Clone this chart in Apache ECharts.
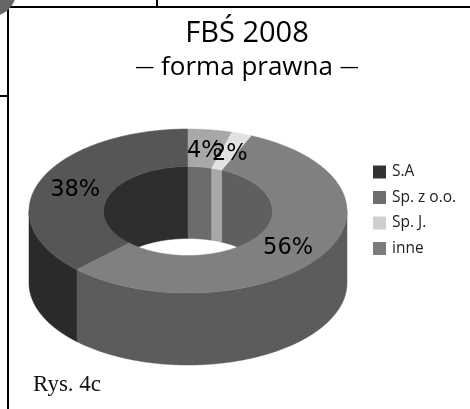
<!DOCTYPE html>
<html><head><meta charset="utf-8">
<style>html,body{margin:0;padding:0;background:#fff}#c{width:470px;height:409px}</style>
<script src="https://cdn.jsdelivr.net/npm/echarts@6/dist/echarts.min.js"></script>
</head><body><div id="c"></div>
<script>
const categories = ["S.A", "Sp. z o.o.", "Sp. J.", "inne"];
const shares = [37.7, 55.8, 2.1, 4.4];
const legendColors = ["#333333", "#6e6e6e", "#cfcfcf", "#7c7c7c"];
const topColors = ["#565656", "#808080", "#e2e2e2", "#a8a8a8"];
const outerWallColors = ["#2a2a2a", "#5c5c5c", "#9a9a9a", "#707070"];
const innerWallColors = ["#2e2e2e", "#5f5f5f", "#a8a8a8", "#6c6c6c"];

const G = {cx:188, cy:211, rx:159, ry:82, irx:84.5, iry:44.5, depth:72};
const labelNudge = [[0,3],[-1,2],[1,3],[0,3]];
const total = shares.reduce((a,b)=>a+b,0);
// clockwise from 12 o'clock the slices run in reverse legend order
const spans = {}; let acc = 0;
for (let i = categories.length-1; i >= 0; i--) {
  const a0 = acc/total*2*Math.PI; acc += shares[i];
  spans[i] = [a0, acc/total*2*Math.PI];
}
const pt = (a, rx, ry, dy) => [G.cx+rx*Math.sin(a), G.cy-ry*Math.cos(a)+(dy||0)];
function arc(a0,a1,rx,ry,dy){
  const n = Math.max(2,Math.ceil((a1-a0)/0.01)), out=[];
  for(let i=0;i<=n;i++) out.push(pt(a0+(a1-a0)*i/n,rx,ry,dy));
  return out;
}
function clip(a0,a1,lo,hi){const s=Math.max(a0,lo),e=Math.min(a1,hi);return e>s?[s,e]:null;}
function band(a0,a1,rx,ry){return arc(a0,a1,rx,ry,0).concat(arc(a0,a1,rx,ry,G.depth).reverse());}
const PI=Math.PI;

function makeRender(idx, layer){
  return function(params, api){
    const [a0,a1]=spans[idx]; const kids=[];
    if(layer==='inner'){
      // the far half of the hole wall shows: angles 270..360 and 0..90
      [[0,PI/2],[3*PI/2,2*PI]].forEach(r=>{const c=clip(a0,a1,r[0],r[1]);
        if(c)kids.push({type:'polygon',shape:{points:band(c[0],c[1],G.irx,G.iry)},style:{fill:innerWallColors[idx],stroke:innerWallColors[idx],lineWidth:0.5}});});
    } else if(layer==='outer'){
      const c=clip(a0,a1,PI/2,3*PI/2);
      if(c)kids.push({type:'polygon',shape:{points:band(c[0],c[1],G.rx,G.ry)},style:{fill:outerWallColors[idx],stroke:outerWallColors[idx],lineWidth:0.5}});
    } else if(layer==='top'){
      const pts=arc(a0,a1,G.rx,G.ry,0).concat(arc(a0,a1,G.irx,G.iry,0).reverse());
      kids.push({type:'polygon',shape:{points:pts},style:{fill:topColors[idx],stroke:topColors[idx],lineWidth:0.5}});
    } else {
      const m=(a0+a1)/2, p=pt(m,(G.rx+G.irx)/2,(G.ry+G.iry)/2,0);
      kids.push({type:'text',style:{x:p[0]+labelNudge[idx][0],y:p[1]+labelNudge[idx][1],text:Math.round(shares[idx])+'%',fill:'#000',
        font:'22.5px "DejaVu Sans"',textAlign:'center',textVerticalAlign:'middle'}});
    }
    return {type:'group',children:kids};
  };
}
const series=[];
['inner','outer','top','label'].forEach((layer,li)=>{
  categories.forEach((name,i)=>{
    series.push({type:'custom',coordinateSystem:'none',name:name,data:[shares[i]],z:2+li,
      itemStyle:{color:legendColors[i]},renderItem:makeRender(i,layer),silent:true,animation:false});
  });
});
const line=(x1,y1,x2,y2)=>({type:'line',shape:{x1,y1,x2,y2},style:{stroke:'#000',lineWidth:2}});
const chart=echarts.init(document.getElementById('c'),null,{renderer:'canvas'});
chart.setOption({
  animation:false,backgroundColor:'#fff',
  title:{text:'{a|FBŚ 2008}\n{d|—}{b| forma prawna }{d|—}',left:242,top:12,textAlign:'center',
    textStyle:{fontWeight:'normal',rich:{
      a:{fontFamily:'Open Sans',fontWeight:'normal',fontSize:29,color:'#000',lineHeight:34},
      b:{fontFamily:'Open Sans',fontWeight:'normal',fontSize:26,color:'#000',lineHeight:33},
      d:{fontFamily:'Open Sans',fontWeight:'normal',fontSize:19,color:'#000',lineHeight:33}}}},
  legend:{orient:'vertical',left:368,top:157,itemWidth:13,itemHeight:13,itemGap:5.5,icon:'rect',
    textStyle:{fontFamily:'Open Sans',fontSize:15.5,color:'#222',lineHeight:20,padding:[0,0,0,1]},
    selectedMode:false,
    data:categories.map((n,i)=>({name:n,itemStyle:{color:legendColors[i]}}))},
  graphic:[
    line(8,7,8,409),line(8,7,470,7),line(157,0,157,7),line(0,96,8,96),
    {type:'sector',shape:{cx:-8,cy:-8,r:24,r0:0,startAngle:0,endAngle:Math.PI/2},style:{fill:'#666'}},
    {type:'text',style:{x:33,y:385,text:'Rys. 4c',fill:'#111',font:'23px "Liberation Serif"',textVerticalAlign:'middle'}}
  ],
  series
});
</script></body></html>
